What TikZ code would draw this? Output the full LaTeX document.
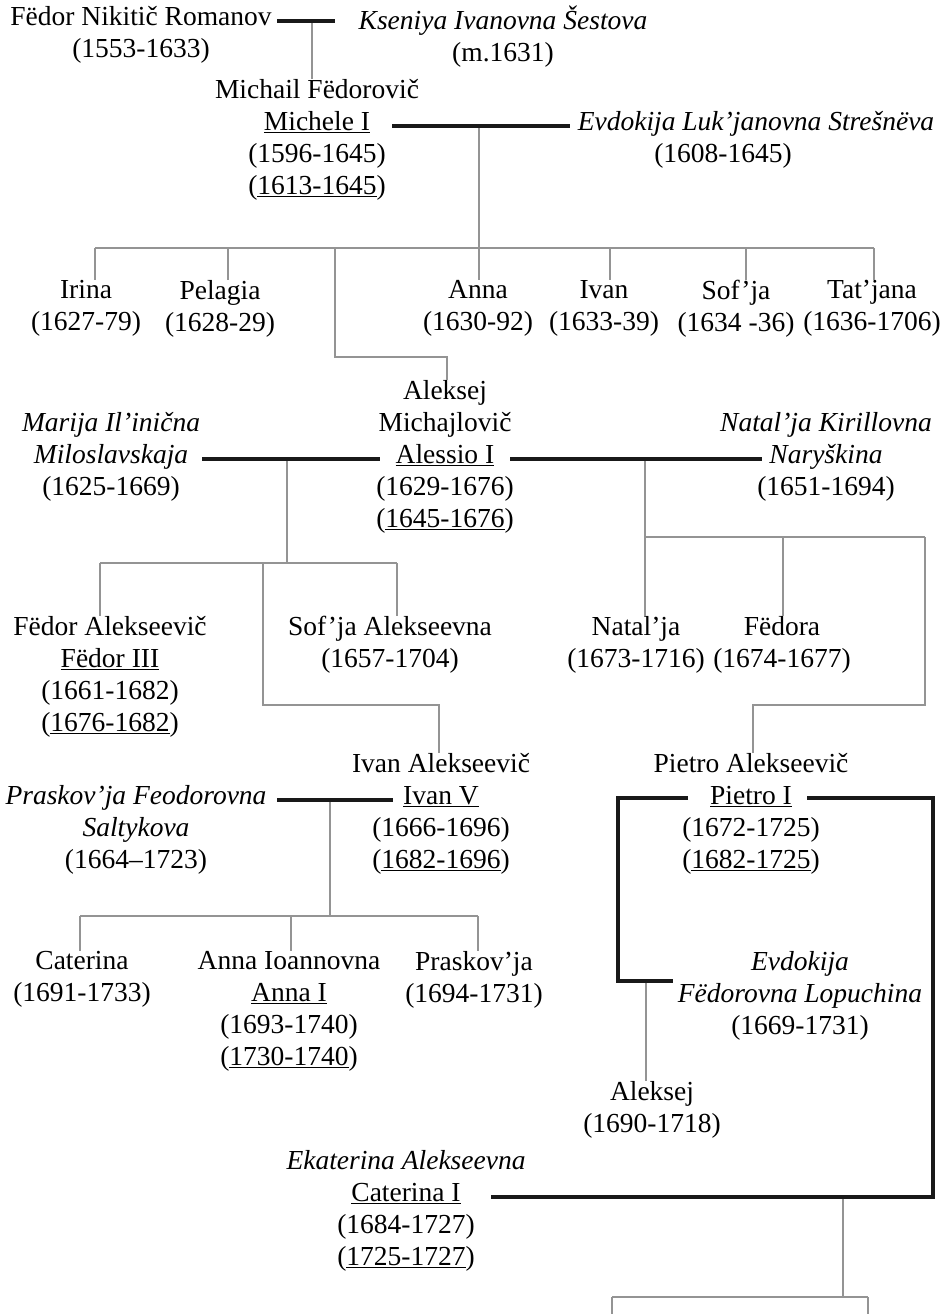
\documentclass[tikz,border=0pt]{standalone}
\usepackage{fontspec}
\setmainfont{Liberation Serif}
\newcommand{\ud}[1]{\underline{#1}}
\begin{document}
\begin{tikzpicture}[x=1pt,y=-1pt,
  person/.style={anchor=north, yshift=12pt, align=center, inner sep=0pt,
    font=\fontsize{27.5}{32}\selectfont, execute at begin node={\rule{0pt}{26pt}}},
  kid/.style={draw=black!42, line width=1.4pt},
  marr/.style={draw=black!90, line width=3.6pt, line join=miter}]
\fill[white] (0,0) rectangle (950,1314);
\useasboundingbox (0,0) rectangle (950,1314);

% generation 0
\node[person] (fnr) at (141,18) {Fëdor Nikitič Romanov\\(1553-1633)};
\node[person] (ksen) at (503,18) {\textit{Kseniya Ivanovna Šestova}\\(m.1631)};
% generation 1
\node[person] (mich) at (317,91) {Michail Fëdorovič\\\ud{Michele I}\\(1596-1645)\\(\ud{1613-1645})};
\node[person] (evd1) at (756,123) {\textit{Evdokija Luk’janovna Strešnëva}\\(1608-1645)\hspace*{66pt}};
% generation 2
\node[person] (irina) at (86,292) {Irina\\(1627-79)};
\node[person] (pelagia) at (220,292) {Pelagia\\(1628-29)};
\node[person] (anna1) at (478,292) {Anna\\(1630-92)};
\node[person] (ivan1) at (604,292) {Ivan\\(1633-39)};
\node[person] (sofja1) at (736,292) {Sof’ja\\(1634 -36)};
\node[person] (tatjana) at (872,292) {Tat’jana\\(1636-1706)};
\node[person] (alek) at (445,392) {Aleksej\\Michajlovič\\\ud{Alessio I}\\(1629-1676)\\(\ud{1645-1676})};
\node[person] (marija) at (111,424) {\textit{Marija Il’inična}\\\textit{Miloslavskaja}\\(1625-1669)};
\node[person] (natk) at (826,424) {\textit{Natal’ja Kirillovna}\\\textit{Naryškina}\\(1651-1694)};
% generation 3
\node[person] (fedor3) at (110,628) {Fëdor Alekseevič\\\ud{Fëdor III}\\(1661-1682)\\(\ud{1676-1682})};
\node[person] (sofja2) at (390,628) {Sof’ja Alekseevna\\(1657-1704)};
\node[person] (natalja) at (636,628) {Natal’ja\\(1673-1716)};
\node[person] (fedora) at (782,628) {Fëdora\\(1674-1677)};
\node[person] (ivan5) at (441,765) {Ivan Alekseevič\\\ud{Ivan V}\\(1666-1696)\\(\ud{1682-1696})};
\node[person] (pietro) at (751,765) {Pietro Alekseevič\\\ud{Pietro I}\\(1672-1725)\\(\ud{1682-1725})};
\node[person] (prask) at (136,797) {\textit{Praskov’ja Feodorovna}\\\textit{Saltykova}\\(1664–1723)};
% generation 4
\node[person] (caterina) at (82,963) {Caterina\\(1691-1733)};
\node[person] (annaI) at (289,963) {Anna Ioannovna\\\ud{Anna I}\\(1693-1740)\\(\ud{1730-1740})};
\node[person] (praskja) at (474,963) {Praskov’ja\\(1694-1731)};
\node[person] (evd2) at (800,963) {\textit{Evdokija}\\\textit{Fëdorovna Lopuchina}\\(1669-1731)};
\node[person] (aleksej) at (652,1093) {Aleksej\\(1690-1718)};
\node[person] (ekat) at (406,1162) {\textit{Ekaterina Alekseevna}\\\ud{Caterina I}\\(1684-1727)\\(\ud{1725-1727})};

% junction coordinates
\coordinate (m1a) at (277,21); \coordinate (m1b) at (335,21); \coordinate (j1) at (312,21);
\coordinate (m2a) at (392,126); \coordinate (m2b) at (570,126); \coordinate (j2) at (479,126);
\coordinate (b2) at (479,248); \coordinate (b2L) at (95,248); \coordinate (b2R) at (874,248);
\coordinate (d1) at (95,248); \coordinate (d2) at (228,248); \coordinate (d3) at (335,248);
\coordinate (d5) at (610,248); \coordinate (d6) at (746,248); \coordinate (d7) at (874,248);
\coordinate (a1) at (335,357); \coordinate (a2) at (447,357);
\coordinate (m3a) at (202,459); \coordinate (m3b) at (380,459); \coordinate (j3) at (287,459);
\coordinate (b3) at (287,563); \coordinate (b3L) at (100,563); \coordinate (b3R) at (397,563);
\coordinate (e1) at (263,563); \coordinate (e2) at (263,705); \coordinate (e3) at (439,705);
\coordinate (m4a) at (510,459); \coordinate (m4b) at (762,459); \coordinate (j4) at (645,459);
\coordinate (b4) at (645,537); \coordinate (b4R) at (925,537); \coordinate (f1) at (783,537);
\coordinate (p1) at (925,705); \coordinate (p2) at (753,705);
\coordinate (m5a) at (277,800); \coordinate (m5b) at (393,800); \coordinate (j5) at (330,800);
\coordinate (b5) at (330,916); \coordinate (b5L) at (80,916); \coordinate (b5R) at (478,916);
\coordinate (g2) at (291,916);
\coordinate (q1) at (688,798); \coordinate (q2) at (618,798); \coordinate (q3) at (618,981);
\coordinate (q4) at (673,981); \coordinate (j6) at (646,981);
\coordinate (r1) at (807,798); \coordinate (r2) at (933,798); \coordinate (r3) at (933,1197);
\coordinate (r4) at (491,1197); \coordinate (j7) at (843,1197);
\coordinate (b7) at (843,1297); \coordinate (b7L) at (612,1297); \coordinate (b7R) at (868,1297);
\coordinate (z1) at (612,1314); \coordinate (z2) at (868,1314);

% child lines
\draw[kid] (j1) -- (j1 |- mich.north);
\draw[kid] (j2) -- (b2);
\draw[kid] (b2L) -- (b2R);
\draw[kid] (d1) -- (d1 |- irina.north);
\draw[kid] (d2) -- (d2 |- pelagia.north);
\draw[kid] (b2) -- (b2 |- anna1.north);
\draw[kid] (d5) -- (d5 |- ivan1.north);
\draw[kid] (d6) -- (d6 |- sofja1.north);
\draw[kid] (d7) -- (d7 |- tatjana.north);
\draw[kid] (d3) -- (a1) -- (a2) -- (a2 |- alek.north);
\draw[kid] (j3) -- (b3);
\draw[kid] (b3L) -- (b3R);
\draw[kid] (b3L) -- (b3L |- fedor3.north);
\draw[kid] (b3R) -- (b3R |- sofja2.north);
\draw[kid] (e1) -- (e2) -- (e3) -- (e3 |- ivan5.north);
\draw[kid] (j4) -- (b4) -- (b4 |- natalja.north);
\draw[kid] (b4) -- (b4R);
\draw[kid] (f1) -- (f1 |- fedora.north);
\draw[kid] (b4R) -- (p1) -- (p2) -- (p2 |- pietro.north);
\draw[kid] (j5) -- (b5);
\draw[kid] (b5L) -- (b5R);
\draw[kid] (b5L) -- (b5L |- caterina.north);
\draw[kid] (g2) -- (g2 |- annaI.north);
\draw[kid] (b5R) -- (b5R |- praskja.north);
\draw[kid] (j6) -- (j6 |- aleksej.north);
\draw[kid] (j7) -- (b7);
\draw[kid] (b7L) -- (b7R);
\draw[kid] (b7L) -- (z1);
\draw[kid] (b7R) -- (z2);

% marriage lines
\draw[marr] (m1a) -- (m1b);
\draw[marr] (m2a) -- (m2b);
\draw[marr] (m3a) -- (m3b);
\draw[marr] (m4a) -- (m4b);
\draw[marr] (m5a) -- (m5b);
\draw[marr] (q1) -- (q2) -- (q3) -- (q4);
\draw[marr] (r1) -- (r2) -- (r3) -- (r4);
\end{tikzpicture}
\end{document}
